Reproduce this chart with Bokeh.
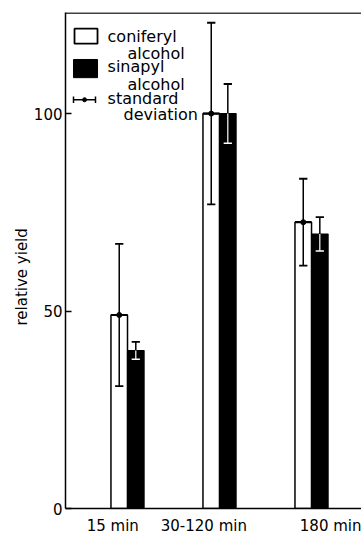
from bokeh.plotting import figure
from bokeh.models import FixedTicker, Range1d, Span, Title
from bokeh.core.properties import value
from bokeh.embed import file_html
from bokeh.resources import INLINE

groups = ["15 min", "30-120 min", "180 min"]
coniferyl = [49, 100, 72.5]
coniferyl_sd = [18, 23, 11]
sinapyl = [40, 100, 69.5]
sinapyl_sd = [2.2, 7.5, 4.3]
y_ticks = [0, 50, 100]

FONT = "DejaVu Sans"
W = 0.18
CAP = 0.045
Y_TOP = 125.6
X0, X1 = 0.326, 3.543

p = figure(frame_width=296, frame_height=496, min_border_left=65, min_border_right=0,
           min_border_top=12, min_border_bottom=33,
           x_range=Range1d(X0, X1), y_range=Range1d(0, Y_TOP),
           output_backend="svg", toolbar_location=None)
p.grid.visible = False
p.outline_line_color = None
p.background_fill_color = "white"
p.border_fill_color = "white"

centers = [i + 1 for i in range(len(groups))]
c_x = [c - W / 2 for c in centers]
s_x = [c + W / 2 for c in centers]

# bars
p.vbar(x=c_x, top=coniferyl, width=W, bottom=0, fill_color="white",
       line_color="black", line_width=1.5)
p.vbar(x=s_x, top=sinapyl, width=W, bottom=0, fill_color="black",
       line_color="black", line_width=1.2)

# coniferyl error bars (black)
c_lo = [m - s for m, s in zip(coniferyl, coniferyl_sd)]
c_hi = [m + s for m, s in zip(coniferyl, coniferyl_sd)]
p.segment(x0=c_x, y0=c_lo, x1=c_x, y1=c_hi, line_color="black", line_width=1.5)
p.segment(x0=[x - CAP for x in c_x], y0=c_hi, x1=[x + CAP for x in c_x], y1=c_hi,
          line_color="black", line_width=1.8)
p.segment(x0=[x - CAP for x in c_x], y0=c_lo, x1=[x + CAP for x in c_x], y1=c_lo,
          line_color="black", line_width=1.8)
p.segment(x0=[x - W / 2 for x in c_x], y0=coniferyl, x1=[x + W / 2 for x in c_x], y1=coniferyl,
          line_color="black", line_width=2.2)
p.scatter(x=c_x, y=coniferyl, size=5, fill_color="black", line_color="black")

# sinapyl error bars (black above, white inside the bar)
s_lo = [m - s for m, s in zip(sinapyl, sinapyl_sd)]
s_hi = [m + s for m, s in zip(sinapyl, sinapyl_sd)]
p.segment(x0=s_x, y0=sinapyl, x1=s_x, y1=s_hi, line_color="black", line_width=1.5)
p.segment(x0=[x - CAP for x in s_x], y0=s_hi, x1=[x + CAP for x in s_x], y1=s_hi,
          line_color="black", line_width=1.8)
p.segment(x0=s_x, y0=s_lo, x1=s_x, y1=sinapyl, line_color="white", line_width=1.2)
p.segment(x0=[x - CAP for x in s_x], y0=s_lo, x1=[x + CAP for x in s_x], y1=s_lo,
          line_color="white", line_width=1.5)

# axes
p.yaxis.ticker = FixedTicker(ticks=y_ticks)
p.yaxis.minor_tick_line_color = None
p.yaxis.major_tick_in = 6
p.yaxis.major_tick_out = 0
p.yaxis.major_tick_line_width = 1.5
p.yaxis.axis_line_width = 1.5
p.yaxis.major_label_standoff = 3
p.yaxis.major_label_text_font = FONT
p.yaxis.major_label_text_font_size = "15px"
p.yaxis.major_label_text_color = "black"

p.add_layout(Title(text="relative yield", align="left", offset=183, text_font=FONT,
                   text_font_size="15px", text_font_style="normal", text_color="black",
                   standoff=0), "left")

label_pos = [0.84, 1.83, 3.22]
p.xaxis.ticker = FixedTicker(ticks=label_pos)
p.xaxis.major_label_overrides = {lp: g for lp, g in zip(label_pos, groups)}
p.xaxis.minor_tick_line_color = None
p.xaxis.major_tick_line_color = None
p.xaxis.major_tick_out = 0
p.xaxis.major_tick_in = 0
p.xaxis.axis_line_width = 1.5
p.xaxis.major_label_standoff = 8
p.xaxis.major_label_text_font = FONT
p.xaxis.major_label_text_font_size = "15px"
p.xaxis.major_label_text_color = "black"

p.add_layout(Span(location=Y_TOP - 0.15, dimension="width", line_color="black", line_width=1.5))

# legend (drawn in data units)
p.quad(left=[0.424], right=[0.674], top=[121.5], bottom=[117.7], fill_color="white",
       line_color="black", line_width=1.8)
p.quad(left=[0.413], right=[0.674], top=[113.7], bottom=[109.1], fill_color="black",
       line_color="black", line_width=1)
p.segment(x0=[0.413], y0=[103.5], x1=[0.652], y1=[103.5], line_color="black", line_width=1.5)
p.segment(x0=[0.413, 0.652], y0=[102.7, 102.7], x1=[0.413, 0.652], y1=[104.3, 104.3],
          line_color="black", line_width=1.5)
p.scatter(x=[0.533], y=[103.5], size=4, fill_color="black", line_color="black")

leg_text = ["coniferyl", "alcohol", "sinapyl", "alcohol", "standard", "deviation"]
leg_x = [0.783, 1.0, 0.783, 1.0, 0.783, 0.957]
leg_y = [119.6, 115.2, 111.9, 107.3, 103.8, 99.7]
p.text(x=leg_x, y=leg_y, text=leg_text, text_font=value(FONT), text_font_size="16px",
       text_baseline="middle", text_align="left", text_color="black")

open("out.html", "w").write(file_html(p, INLINE))
